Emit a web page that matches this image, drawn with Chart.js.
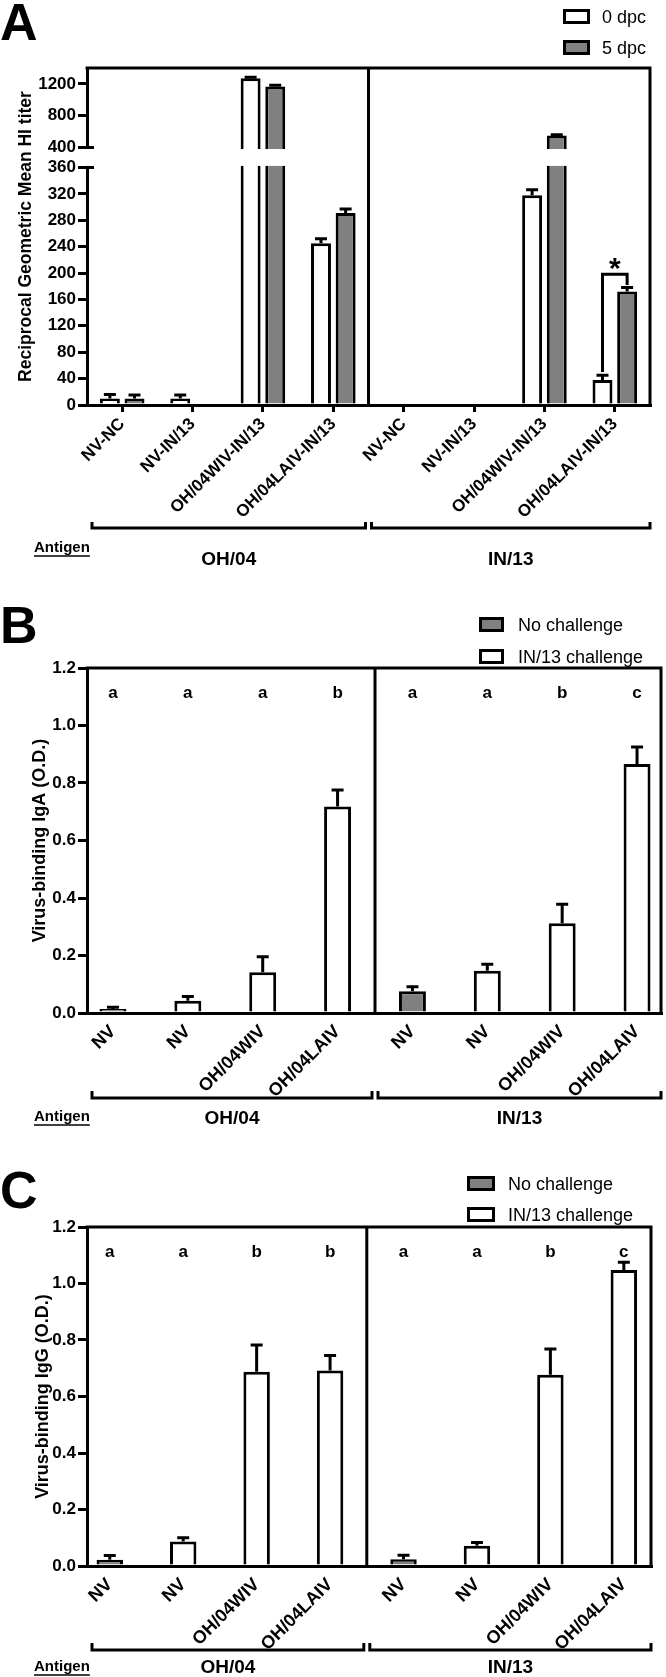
<!DOCTYPE html>
<html>
<head>
<meta charset="utf-8">
<title>HI titers and virus-binding antibodies</title>
<script src="https://cdn.jsdelivr.net/npm/chart.js@4/dist/chart.umd.min.js"></script>
<style>
  html, body { margin: 0; padding: 0; background: #fff; }
  body { position: relative; width: 666px; height: 1677px; overflow: hidden;
         font-family: "Liberation Sans", Arial, Helvetica, sans-serif; color: #000; }
  canvas { position: absolute; left: 0; }
  .letter { position: absolute; left: 0; font-size: 52px; line-height: 52px; font-weight: bold; }
  .key { position: absolute; box-sizing: border-box; border: 3px solid #000; }
  .keytext { position: absolute; font-size: 18px; line-height: 18px; white-space: nowrap; }
</style>
</head>
<body>
<div class="letter" style="top:-4px">A</div>
<div class="letter" style="top:599px">B</div>
<div class="letter" style="top:1164px">C</div>
<canvas id="chartA" width="666" height="580" style="top:0px"></canvas>
<canvas id="chartB" width="666" height="560" style="top:580px"></canvas>
<canvas id="chartC" width="666" height="537" style="top:1140px"></canvas>
<script>
//values, the *Err arrays hold the top of each error bar

//panel A - HI titers, x = vaccine/challenge group, first 4 tested on OH/04, last 4 on IN/13
const hiGroups = ['NV-NC', 'NV-IN/13', 'OH/04WIV-IN/13', 'OH/04LAIV-IN/13',
                  'NV-NC', 'NV-IN/13', 'OH/04WIV-IN/13', 'OH/04LAIV-IN/13'];
const hiSeries = ['0 dpc', '5 dpc'];
const hiDay0    = [10, 10, 1270, 245, 0, 0, 318, 38];
const hiDay0Err = [16, 15, 1285, 252, 0, 0, 326, 45];
const hiDay5    = [10, 0, 1168, 291, 0, 0, 550, 172];
const hiDay5Err = [15, 0, 1182, 297, 0, 0, 560, 178];
const hiTicks = [0, 40, 80, 120, 160, 200, 240, 280, 320, 360, 400, 800, 1200];

//panels B and C - virus-binding antibody O.D.
const odGroups = ['NV', 'NV', 'OH/04WIV', 'OH/04LAIV', 'NV', 'NV', 'OH/04WIV', 'OH/04LAIV'];
const odSeries = ['No challenge', 'IN/13 challenge'];
const igaNoChal    = [0.014, null, null, null, 0.076, null, null, null];
const igaNoChalErr = [0.020, null, null, null, 0.091, null, null, null];
const igaChal      = [null, 0.043, 0.142, 0.718, null, 0.147, 0.312, 0.866];
const igaChalErr   = [null, 0.057, 0.196, 0.776, null, 0.170, 0.378, 0.925];
const igaLetters   = ['a', 'a', 'a', 'b', 'a', 'a', 'b', 'c'];

const iggNoChal    = [0.022, null, null, null, 0.024, null, null, null];
const iggNoChalErr = [0.037, null, null, null, 0.038, null, null, null];
const iggChal      = [null, 0.087, 0.688, 0.692, null, 0.072, 0.677, 1.048];
const iggChalErr   = [null, 0.100, 0.782, 0.745, null, 0.083, 0.768, 1.075];
const iggLetters   = ['a', 'a', 'b', 'b', 'a', 'a', 'b', 'c'];

const odTicks = [0, 0.2, 0.4, 0.6, 0.8, 1.0, 1.2];
const antigens = ['OH/04', 'IN/13'];
const groupTitle = 'Antigen';

const GRAY = '#808080';
const FONT = '"Liberation Sans", Arial, Helvetica, sans-serif';
Chart.defaults.font.family = FONT;
Chart.defaults.color = '#000';

//linear scale with a cut between lowMax and highMin (panel A)
class BrokenScale extends Chart.LinearScale {
    frac(v) {
        const b = this.options.brk;
        if (v <= b.lowMax) return v / b.lowMax * b.lowFrac;
        if (v >= b.highMin)
            return b.lowFrac + b.gapFrac + (v - b.highMin) / (this.max - b.highMin) * (1 - b.lowFrac - b.gapFrac);
        return b.lowFrac + (v - b.lowMax) / (b.highMin - b.lowMax) * b.gapFrac;
    }
    getPixelForValue(v) {
        return this.bottom - this.frac(v) * (this.bottom - this.top);
    }
    getValueForPixel(p) {
        return (this.bottom - p) / (this.bottom - this.top) * this.max;
    }
}
BrokenScale.id = 'broken';
BrokenScale.defaults = {};
Chart.register(BrokenScale);

//upper whiskers for every dataset that has an err array
const errorBars = {
    id: 'errorBars',
    afterDatasetsDraw(chart, args, opts) {
        const ctx = chart.ctx;
        const y = chart.scales.y;
        chart.data.datasets.forEach((ds, di) => {
            if (!ds.err) return;
            chart.getDatasetMeta(di).data.forEach((bar, i) => {
                const v = ds.data[i].y, e = ds.err[i];
                if (v == null || e == null || e <= v) return;
                const top = y.getPixelForValue(e);
                ctx.save();
                ctx.strokeStyle = '#000';
                ctx.lineWidth = 3;
                ctx.beginPath();
                ctx.moveTo(bar.x, bar.y);
                ctx.lineTo(bar.x, top);
                ctx.moveTo(bar.x - opts.cap / 2, top);
                ctx.lineTo(bar.x + opts.cap / 2, top);
                ctx.stroke();
                ctx.restore();
            });
        });
    }
};

//frame, divider, axis break, brackets, antigen names, letters
const panelDecor = {
    id: 'panelDecor',
    afterDatasetsDraw(chart, args, opts) {
        if (!opts.breakAt) return;
        const ctx = chart.ctx, area = chart.chartArea, y = chart.scales.y;
        const yHi = y.getPixelForValue(opts.breakAt[1]);
        const yLo = y.getPixelForValue(opts.breakAt[0]);
        ctx.save();
        ctx.fillStyle = '#fff';
        ctx.fillRect(area.left - 3, yHi + 1.5, area.right - area.left + 3, yLo - yHi - 3);
        ctx.strokeStyle = '#000';
        ctx.lineWidth = 3;
        ctx.beginPath();
        [yHi, yLo].forEach(py => { ctx.moveTo(area.left - 1.5, py); ctx.lineTo(area.left + 7, py); });
        ctx.stroke();
        ctx.restore();
    },
    afterDraw(chart, args, opts) {
        const ctx = chart.ctx, area = chart.chartArea;
        const x = chart.scales.x, y = chart.scales.y;
        const divX = x.getPixelForValue(opts.divideAt);
        ctx.save();
        ctx.strokeStyle = '#000';
        ctx.fillStyle = '#000';
        ctx.lineWidth = 3;
        ctx.lineJoin = 'miter';
        ctx.beginPath();
        ctx.moveTo(area.left - 1.5, area.top);
        ctx.lineTo(area.right + 1.5, area.top);
        ctx.moveTo(area.right, area.top);
        ctx.lineTo(area.right, area.bottom + 1.5);
        ctx.moveTo(divX, area.top);
        ctx.lineTo(divX, area.bottom);
        ctx.stroke();

        //brackets grouping the two antigens
        const by = area.bottom + opts.bracketY;
        const spans = [[area.left + 5, divX - 3], [divX + 3, area.right]];
        ctx.beginPath();
        spans.forEach(s => {
            ctx.moveTo(s[0], by - opts.bracketH);
            ctx.lineTo(s[0], by);
            ctx.lineTo(s[1], by);
            ctx.lineTo(s[1], by - opts.bracketH);
        });
        ctx.stroke();

        ctx.textAlign = 'center';
        ctx.textBaseline = 'middle';
        ctx.font = 'bold 19px ' + FONT;
        spans.forEach((s, k) => ctx.fillText(antigens[k], (s[0] + s[1]) / 2, area.bottom + opts.groupY));

        ctx.textAlign = 'left';
        ctx.font = 'bold 15px ' + FONT;
        const ay = area.bottom + opts.antigenY;
        ctx.fillText(groupTitle, 34, ay);
        const w = ctx.measureText(groupTitle).width;
        ctx.lineWidth = 1.5;
        ctx.beginPath();
        ctx.moveTo(34, ay + 8);
        ctx.lineTo(34 + w, ay + 8);
        ctx.stroke();

        //significance letters
        if (opts.letters) {
            ctx.textAlign = 'center';
            ctx.textBaseline = 'alphabetic';
            ctx.font = 'bold 17px ' + FONT;
            const ly = y.getPixelForValue(opts.letterAt);
            opts.letters.forEach((l, i) => ctx.fillText(l, x.getPixelForValue(i), ly));
        }

        //significance bracket in panel A
        if (opts.sig) {
            const s = opts.sig;
            const x0 = chart.getDatasetMeta(0).data[s.index].x;
            const x1 = chart.getDatasetMeta(1).data[s.index].x;
            const top = y.getPixelForValue(s.top);
            ctx.lineWidth = 3;
            ctx.beginPath();
            ctx.moveTo(x0, y.getPixelForValue(s.left));
            ctx.lineTo(x0, top);
            ctx.lineTo(x1, top);
            ctx.lineTo(x1, y.getPixelForValue(s.right));
            ctx.stroke();
            ctx.textAlign = 'center';
            ctx.textBaseline = 'alphabetic';
            ctx.font = 'bold 30px ' + FONT;
            ctx.fillText(s.mark, (x0 + x1) / 2, top + 4);
        }
        ctx.restore();
    }
};

function pts(vals) {
    return vals.map((v, i) => ({ x: i, y: v }));
}

function xAxis(labels, min, max, tickLen, height, size) {
    return {
        type: 'linear', min: min, max: max, offset: false, z: 1,
        afterBuildTicks: s => { s.ticks = labels.map((l, i) => ({ value: i })); },
        afterFit: s => { s.height = height; },
        grid: { offset: false, drawOnChartArea: false, drawTicks: tickLen > 0, tickLength: tickLen,
                lineWidth: 3, color: '#000' },
        border: { width: 3, color: '#000' },
        ticks: { autoSkip: false, minRotation: 45, maxRotation: 45, padding: tickLen > 0 ? 2 : 8,
                 font: { size: size, weight: 'bold' }, callback: v => labels[v] }
    };
}

function yAxisCommon(title, titleSize, titlePad) {
    return {
        afterFit: s => { s.width = 87; },
        grid: { drawOnChartArea: false, tickLength: 9, lineWidth: 3, color: '#000' },
        border: { width: 3, color: '#000' },
        title: { display: true, text: title, font: { size: titleSize, weight: 'bold' },
                 padding: { top: titlePad, bottom: 0 } }
    };
}

function odAxis(title, titlePad) {
    const a = yAxisCommon(title, 18, titlePad);
    a.type = 'linear';
    a.min = 0;
    a.max = 1.2;
    a.afterBuildTicks = s => { s.ticks = odTicks.map(v => ({ value: v })); };
    a.ticks = { autoSkip: false, padding: 2, font: { size: 17, weight: 'bold' }, callback: v => v.toFixed(1) };
    return a;
}

function baseOptions(pad, scales, decor) {
    return {
        responsive: false, animation: false, devicePixelRatio: 1, events: [],
        layout: { padding: pad },
        plugins: { legend: { display: false }, tooltip: { enabled: false },
                   errorBars: { cap: 12 }, panelDecor: decor },
        scales: scales
    };
}

function odDatasets(noChal, noChalErr, chal, chalErr) {
    return [
        { label: odSeries[0], data: pts(noChal), err: noChalErr, grouped: false,
          backgroundColor: GRAY, borderColor: '#000', borderWidth: 3, categoryPercentage: 1, barPercentage: 0.36 },
        { label: odSeries[1], data: pts(chal), err: chalErr, grouped: false,
          backgroundColor: '#fff', borderColor: '#000', borderWidth: 3, categoryPercentage: 1, barPercentage: 0.36 }
    ];
}

//panel A
const yA = yAxisCommon('Reciprocal Geometric Mean HI titer', 17.5, 16);
yA.type = 'broken';
yA.min = 0;
yA.max = 1400;
yA.brk = { lowMax: 360, highMin: 400, lowFrac: 0.705, gapFrac: 0.059 };
yA.afterBuildTicks = s => { s.ticks = hiTicks.map(v => ({ value: v })); };
yA.ticks = { autoSkip: false, padding: 2, font: { size: 17, weight: 'bold' }, callback: v => String(v) };

const chartA = new Chart(document.getElementById('chartA'), {
    type: 'bar',
    data: {
        datasets: [
            { label: hiSeries[0], data: pts(hiDay0), err: hiDay0Err, backgroundColor: '#fff',
              borderColor: '#000', borderWidth: 3, categoryPercentage: 0.7, barPercentage: 0.81 },
            { label: hiSeries[1], data: pts(hiDay5), err: hiDay5Err, backgroundColor: GRAY,
              borderColor: '#000', borderWidth: 3, categoryPercentage: 0.7, barPercentage: 0.81 }
        ]
    },
    options: baseOptions({ top: 68, right: 16, bottom: 55, left: 0 },
        { x: xAxis(hiGroups, -0.5, 7.5, 7, 120, 17), y: yA },
        { divideAt: 3.5, bracketY: 123, bracketH: 6, groupY: 155, antigenY: 143, breakAt: [360, 400],
          sig: { index: 7, top: 198, left: 50, right: 182, mark: '*' } }),
    plugins: [errorBars, panelDecor]
});

//panel B - IgA
const chartB = new Chart(document.getElementById('chartB'), {
    type: 'bar',
    data: { datasets: odDatasets(igaNoChal, igaNoChalErr, igaChal, igaChalErr) },
    options: baseOptions({ top: 88, right: 5, bottom: 37, left: 0 },
        { x: xAxis(odGroups, -0.347, 7.32, 0, 90, 18), y: odAxis('Virus-binding IgA (O.D.)', 29) },
        { divideAt: 3.5, bracketY: 85, bracketH: 7, groupY: 106, antigenY: 104,
          letters: igaLetters, letterAt: 1.095 }),
    plugins: [errorBars, panelDecor]
});

//panel C - IgG
const chartC = new Chart(document.getElementById('chartC'), {
    type: 'bar',
    data: { datasets: odDatasets(iggNoChal, iggNoChalErr, iggChal, iggChalErr) },
    options: baseOptions({ top: 87, right: 15, bottom: 21, left: 0 },
        { x: xAxis(odGroups, -0.31, 7.37, 0, 90, 18), y: odAxis('Virus-binding IgG (O.D.)', 32) },
        { divideAt: 3.5, bracketY: 84, bracketH: 7, groupY: 102, antigenY: 101,
          letters: iggLetters, letterAt: 1.095 }),
    plugins: [errorBars, panelDecor]
});

//legend boxes next to each panel, built from the dataset labels and fills
function addLegend(chart, left, boxW, textLeft, top, step) {
    chart.data.datasets.forEach((ds, k) => {
        const y = top + k * step;
        const box = document.createElement('div');
        box.className = 'key';
        box.style.cssText = 'left:' + left + 'px;top:' + y + 'px;width:' + boxW + 'px;height:15px;background:' + ds.backgroundColor;
        document.body.appendChild(box);
        const t = document.createElement('div');
        t.className = 'keytext';
        t.style.cssText = 'left:' + textLeft + 'px;top:' + (y - 1.5) + 'px';
        t.textContent = ds.label;
        document.body.appendChild(t);
    });
}
addLegend(chartA, 563, 27, 602, 9, 31);
addLegend(chartB, 479, 25, 518, 617, 32);
addLegend(chartC, 467, 28, 508, 1176, 31);
</script>
</body>
</html>
